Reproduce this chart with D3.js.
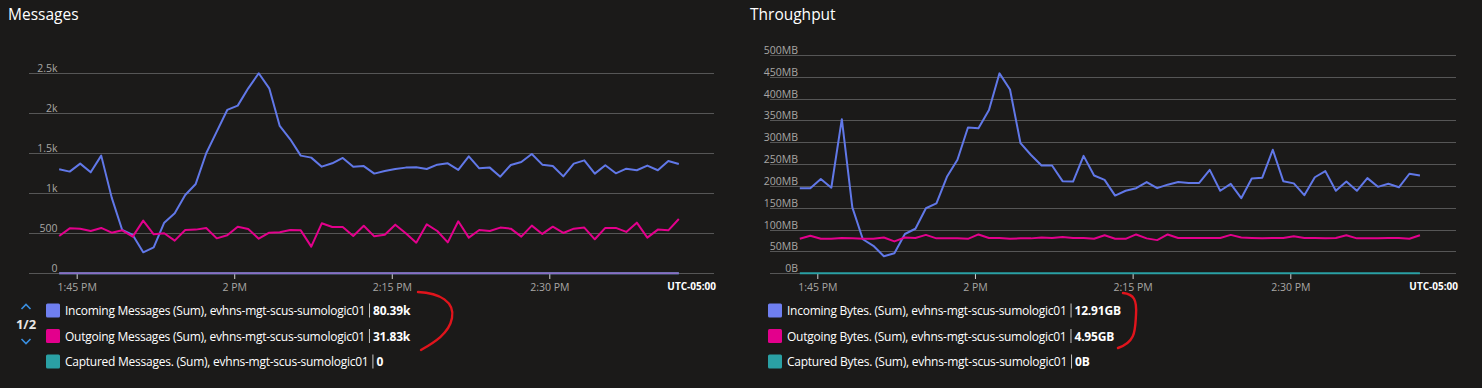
<!DOCTYPE html>
<html><head><meta charset="utf-8">
<script src="https://cdn.jsdelivr.net/npm/d3@7"></script>
<style>
html,body{margin:0;padding:0;background:#1b1a19;overflow:hidden;}
svg{display:block;font-family:"Segoe UI","Open Sans","Noto Sans",sans-serif;}
</style></head>
<body><svg id="c" width="1482" height="388"></svg>
<script>
// ---------- DATA ----------
const times = ["13:43:20","13:44:20","13:45:20","13:46:20","13:47:20","13:48:20","13:49:20","13:50:20","13:51:20","13:52:20",
"13:53:20","13:54:20","13:55:20","13:56:20","13:57:20","13:58:20","13:59:20","14:00:20","14:01:20","14:02:20",
"14:03:20","14:04:20","14:05:20","14:06:20","14:07:20","14:08:20","14:09:20","14:10:20","14:11:20","14:12:20",
"14:13:20","14:14:20","14:15:20","14:16:20","14:17:20","14:18:20","14:19:20","14:20:20","14:21:20","14:22:20",
"14:23:20","14:24:20","14:25:20","14:26:20","14:27:20","14:28:20","14:29:20","14:30:20","14:31:20","14:32:20",
"14:33:20","14:34:20","14:35:20","14:36:20","14:37:20","14:38:20","14:39:20","14:40:20","14:41:20","14:42:20"];

const incomingMessages = [1300,1271,1371,1262,1471,946,542,479,262,325,633,750,979,1117,1500,1771,2042,2096,2312,2500,
2312,1842,1675,1471,1446,1333,1375,1442,1333,1340,1246,1279,1304,1321,1325,1304,1358,1375,1292,1462,
1312,1321,1208,1354,1392,1492,1358,1342,1212,1371,1412,1246,1350,1250,1308,1288,1346,1288,1404,1367];
const outgoingMessages = [467,562,558,529,567,508,537,458,658,487,500,408,542,546,567,437,475,583,554,433,
508,512,542,537,333,625,579,579,467,594,462,483,608,500,383,612,529,387,650,446,
542,529,571,558,458,596,492,583,504,558,571,425,567,567,517,633,446,546,537,679];
const capturedMessages = [0,0,0,0,0,0,0,0,0,0,0,0,0,0,0,0,0,0,0,0,0,0,0,0,0,0,0,0,0,0,
0,0,0,0,0,0,0,0,0,0,0,0,0,0,0,0,0,0,0,0,0,0,0,0,0,0,0,0,0,0];
const page2Messages = [0,0,0,0,0,0,0,0,0,0,0,0,0,0,0,0,0,0,0,0,0,0,0,0,0,0,0,0,0,0,
0,0,0,0,0,0,0,0,0,0,0,0,0,0,0,0,0,0,0,0,0,0,0,0,0,0,0,0,0,0];

const incomingBytesMB = [195,195,216,196,353,151,78,63,39,46,90,102,149,160,221,260,334,332,374,458,
421,298,271,247,247,211,210,269,224,214,178,189,195,209,195,203,209,207,207,237,
189,205,172,217,219,283,211,206,179,220,234,189,210,189,218,198,205,197,228,224];
const outgoingBytesMB = [79,86,79,79,81,80,79,79,82,73,82,81,88,80,80,80,79,89,81,81,
79,80,80,82,81,83,81,81,79,87,79,79,89,80,76,89,81,81,81,81,
81,88,82,81,80,81,81,85,81,81,80,81,87,80,80,80,81,81,79,87];
const capturedBytesMB = [0,0,0,0,0,0,0,0,0,0,0,0,0,0,0,0,0,0,0,0,0,0,0,0,0,0,0,0,0,0,
0,0,0,0,0,0,0,0,0,0,0,0,0,0,0,0,0,0,0,0,0,0,0,0,0,0,0,0,0,0];

const xTickTimes = ["13:45:00","14:00:00","14:15:00","14:30:00"];
const xTickLabels = ["1:45 PM","2 PM","2:15 PM","2:30 PM"];
const msgTicks = [0,500,1000,1500,2000,2500];
const msgTickLabels = ["0","500","1k","1.5k","2k","2.5k"];
const mbTicks = [0,50,100,150,200,250,300,350,400,450,500];
const mbTickLabels = ["0B","50MB","100MB","150MB","200MB","250MB","300MB","350MB","400MB","450MB","500MB"];

const msgLegendNames = ["Incoming Messages (Sum), evhns-mgt-scus-sumologic01","Outgoing Messages (Sum), evhns-mgt-scus-sumologic01","Captured Messages. (Sum), evhns-mgt-scus-sumologic01"];
const msgLegendValues = ["80.39k","31.83k","0"];
const bytesLegendNames = ["Incoming Bytes. (Sum), evhns-mgt-scus-sumologic01","Outgoing Bytes. (Sum), evhns-mgt-scus-sumologic01","Captured Bytes. (Sum), evhns-mgt-scus-sumologic01"];
const bytesLegendValues = ["12.91GB","4.95GB","0B"];

// ---------- STYLE ----------
const C_BLUE = "#6178e8", C_PINK = "#e3008c", C_TEAL = "#2aa0a4", C_PURPLE = "#8c6cc4";
const SW_BLUE = "#6f7ff0";

const parse = d3.timeParse("%H:%M:%S");
const svg = d3.select("#c");

function drawChart(cfg){
  const g = svg.append("g");
  g.append("text").attr("x", cfg.titleX).attr("y", 20).attr("fill", "#ffffff")
    .attr("font-size", "15.5px").text(cfg.title);

  const x = d3.scaleTime().domain([parse(xTickTimes[0]), parse(xTickTimes[3])]).range([cfg.x0, cfg.x1]);
  const y = d3.scaleLinear().domain([0, cfg.yMax]).range([cfg.yBottom, cfg.yTop]);

  cfg.yTicks.forEach((v,i)=>{
    const yy = Math.round(y(v)) + 0.5;
    g.append("line").attr("x1", cfg.gridX0).attr("x2", cfg.gridX1).attr("y1", yy).attr("y2", yy)
      .attr("stroke", "#565656").attr("stroke-width", 1);
    g.append("text").attr("x", cfg.labelX).attr("y", yy - 2).attr("text-anchor", "end")
      .attr("fill", "#a8a6a4").attr("font-size", "10.5px").text(cfg.yLabels[i]);
  });

  const ax = g.append("g").attr("transform", `translate(0,${Math.round(cfg.yBottom)+1})`)
    .call(d3.axisBottom(x).tickValues(xTickTimes.map(parse)).tickFormat((d,i)=>xTickLabels[i]).tickSize(5).tickPadding(5));
  ax.select(".domain").remove();
  ax.selectAll(".tick line").attr("stroke", "#d0d0d0");
  ax.selectAll(".tick text").attr("fill", "#a8a6a4").attr("font-size", "10.5px")
    .attr("font-family", '"Segoe UI","Open Sans","Noto Sans",sans-serif');
  g.append("text").attr("x", cfg.gridX1 + 2).attr("y", 290).attr("text-anchor", "end")
    .attr("fill", "#ffffff").attr("font-size", "10px").attr("font-weight", "bold").text("UTC-05:00");

  const line = d3.line().x((d,i)=>x(parse(times[i]))).y(d=>y(d));
  cfg.series.forEach(s=>{
    g.append("path").datum(s.values).attr("d", line).attr("fill", "none")
      .attr("stroke", s.color).attr("stroke-width", 2).attr("stroke-linejoin", "round");
  });

  cfg.legend.names.forEach((n,i)=>{
    const cy = 310.5 + i*25.5;
    g.append("rect").attr("x", cfg.legX).attr("y", cy-7).attr("width", 14).attr("height", 14)
      .attr("rx", 1.5).attr("fill", cfg.legend.colors[i]);
    const t = g.append("text").attr("x", cfg.legX + 19).attr("y", cy + 4.5).attr("fill", "#ffffff")
      .attr("font-size", "12px").attr("letter-spacing", "-0.25px").text(n);
    const w = t.node().getComputedTextLength();
    const sx = cfg.legX + 19 + w + 4.5;
    g.append("line").attr("x1", sx).attr("x2", sx).attr("y1", cy-7).attr("y2", cy+7)
      .attr("stroke", "#c8c6c4").attr("stroke-width", 1);
    g.append("text").attr("x", sx + 3.5).attr("y", cy + 4.5).attr("fill", "#ffffff")
      .attr("font-size", "12px").attr("font-weight", "bold").attr("letter-spacing", "-0.2px").text(cfg.legend.values[i]);
  });
}

drawChart({
  title: "Messages", titleX: 8,
  x0: 76.7, x1: 549.3, yBottom: 273.3, yTop: 73.3, yMax: 2500,
  gridX0: 29, gridX1: 714, labelX: 57.5,
  yTicks: msgTicks, yLabels: msgTickLabels,
  series: [
    {values: incomingMessages, color: C_BLUE},
    {values: outgoingMessages, color: C_PINK},
    {values: capturedMessages, color: C_TEAL},
    {values: page2Messages, color: C_PURPLE}
  ],
  legX: 46,
  legend: {names: msgLegendNames, values: msgLegendValues, colors: [SW_BLUE, C_PINK, C_TEAL]}
});

drawChart({
  title: "Throughput", titleX: 750,
  x0: 817.3, x1: 1290.3, yBottom: 273.3, yTop: 55, yMax: 500,
  gridX0: 770, gridX1: 1456, labelX: 798,
  yTicks: mbTicks, yLabels: mbTickLabels,
  series: [
    {values: incomingBytesMB, color: C_BLUE},
    {values: outgoingBytesMB, color: C_PINK},
    {values: capturedBytesMB, color: C_TEAL}
  ],
  legX: 768,
  legend: {names: bytesLegendNames, values: bytesLegendValues, colors: [SW_BLUE, C_PINK, C_TEAL]}
});

const pg = svg.append("g");
pg.append("path").attr("d", "M21.5,309 L26,304.5 L30.5,309").attr("fill","none").attr("stroke","#3a8fe0").attr("stroke-width",1.6);
pg.append("path").attr("d", "M21.5,339 L26,343.5 L30.5,339").attr("fill","none").attr("stroke","#3a8fe0").attr("stroke-width",1.6);
pg.append("text").attr("x", 26).attr("y", 328.5).attr("text-anchor","middle").attr("fill","#e8e6e4")
  .attr("font-size","13px").attr("font-weight","bold").text("1/2");

svg.append("path").attr("d","M418,292 C440,293 455,302 452,318 C449,334 433,343 421,350")
  .attr("fill","none").attr("stroke","#e0141c").attr("stroke-width",2.4).attr("stroke-linecap","round");
svg.append("path").attr("d","M1123,293 C1134,294 1137,300 1136,315 C1135,330 1136,342 1118,348")
  .attr("fill","none").attr("stroke","#e0141c").attr("stroke-width",2.4).attr("stroke-linecap","round");
</script>
</body></html>
